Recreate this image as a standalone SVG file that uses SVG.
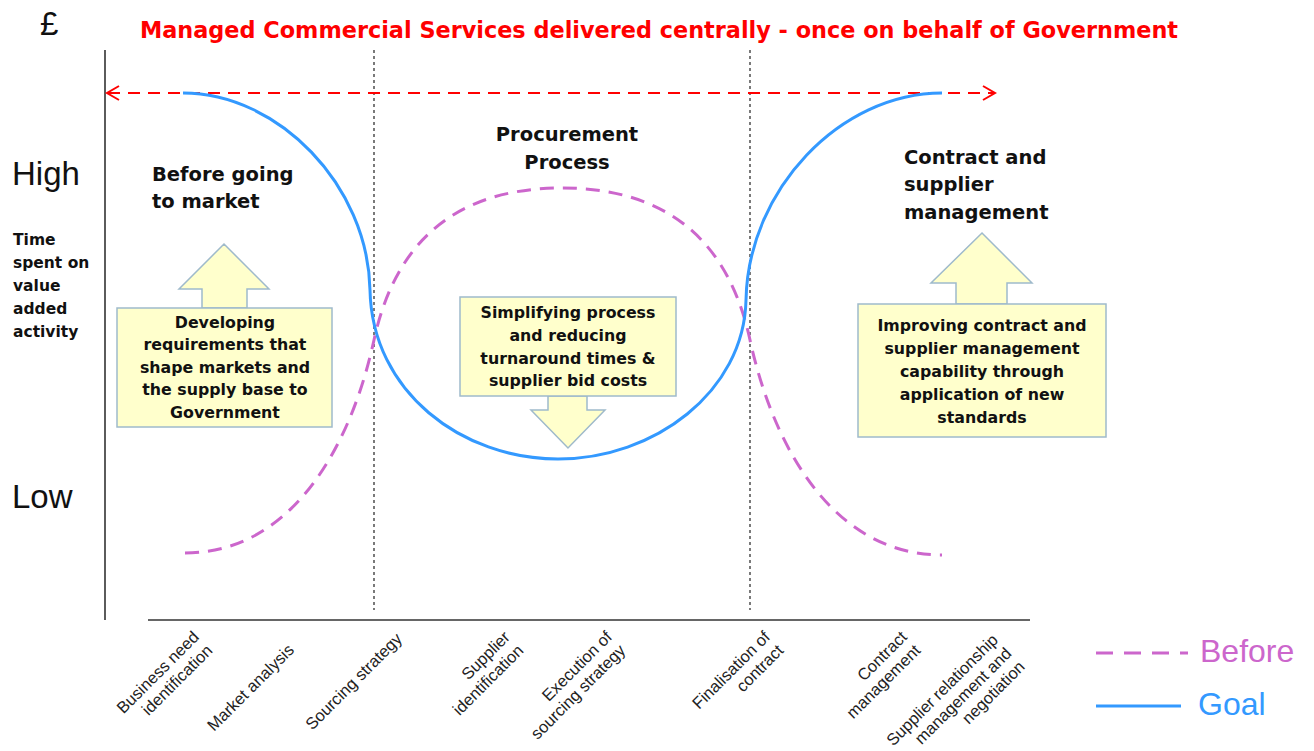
<svg xmlns="http://www.w3.org/2000/svg" width="1314" height="751" viewBox="0 0 1314 751">
<style>
.hd{font-family:"DejaVu Sans","Liberation Sans",sans-serif;font-weight:bold;font-size:19.5px;fill:#111}
.bx{font-family:"DejaVu Sans","Liberation Sans",sans-serif;font-weight:bold;font-size:15.8px;fill:#111;text-anchor:middle}
.ax{font-family:"Liberation Sans",Arial,sans-serif;font-size:16.5px;fill:#222;text-anchor:end}
.big{font-family:"Liberation Sans",Arial,sans-serif;font-size:33px;fill:#111}
.card{fill:#FFFFCC;stroke:#9FBACB;stroke-width:1.5}
.dot{stroke:#222;stroke-width:1.2;stroke-dasharray:3 3;fill:none}
.axis{stroke:#333;stroke-width:1.6;fill:none}
.goal{stroke:#3399FF;stroke-width:3;fill:none}
.before{stroke:#CC66CC;stroke-width:3;fill:none;stroke-dasharray:14 9}
.red{stroke:#FF0000;stroke-width:2;fill:none}
</style>
<rect width="1314" height="751" fill="#FFFFFF"/>

<g id="title">
<text x="140" y="38" textLength="1038" lengthAdjust="spacingAndGlyphs" style="font-family:'DejaVu Sans','Liberation Sans',sans-serif;font-weight:bold;font-size:23px;fill:#FF0000">Managed Commercial Services delivered centrally - once on behalf of Government</text>
</g>

<g id="y-axis-labels">
<text class="big" x="40" y="35">£</text>
<text class="big" x="12" y="185">High</text>
<text class="big" x="12" y="508">Low</text>
<text style="font-family:'DejaVu Sans','Liberation Sans',sans-serif;font-weight:bold;font-size:15.5px;fill:#111">
<tspan x="13" y="245">Time</tspan><tspan x="13" y="268">spent on</tspan><tspan x="13" y="291">value</tspan><tspan x="13" y="314">added</tspan><tspan x="13" y="337">activity</tspan>
</text>
</g>

<g id="axes">
<line class="axis" x1="105" y1="50" x2="105" y2="620"/>
<line class="axis" x1="148" y1="620" x2="1030" y2="620"/>
<line class="dot" x1="374" y1="50" x2="374" y2="610"/>
<line class="dot" x1="750" y1="50" x2="750" y2="610"/>
</g>

<g id="connectors">
<line class="red" x1="108" y1="93" x2="994" y2="93" stroke-dasharray="12 8"/>
<polyline class="red" points="119,86 107,93 119,100"/>
<polyline class="red" points="983,86 995,93 983,100"/>
<path class="before" d="M185,553 C290,553 350,450 374,340 C400,220 480,188 562,188 C644,188 724,220 750,340 C774,450 835,555 942,555"/>
<path class="goal" d="M183,93 C278,93 368,185 370,290 C372,392 462,459 558,459 C654,459 744,392 746,300 C748,190 840,93 942,93"/>
</g>

<g id="heading-before-market">
<text class="hd"><tspan x="152" y="181">Before going</tspan><tspan x="152" y="208">to market</tspan></text>
</g>
<g id="heading-procurement">
<text class="hd" text-anchor="middle"><tspan x="567" y="141">Procurement</tspan><tspan x="567" y="169">Process</tspan></text>
</g>
<g id="heading-contract">
<text class="hd"><tspan x="904" y="164">Contract and</tspan><tspan x="904" y="191">supplier</tspan><tspan x="904" y="219">management</tspan></text>
</g>

<g id="box-requirements">
<polygon class="card" points="202,308 202,289 179,289 224,244 269,289 247,289 247,308"/>
<rect class="card" x="117" y="308" width="215" height="119"/>
<text class="bx"><tspan x="225" y="328">Developing</tspan><tspan x="225" y="350">requirements that</tspan><tspan x="225" y="373">shape markets and</tspan><tspan x="225" y="395">the supply base to</tspan><tspan x="225" y="418">Government</tspan></text>
</g>

<g id="box-simplifying">
<polygon class="card" points="548,396 548,410 531,410 568,448 605,410 587,410 587,396"/>
<rect class="card" x="460" y="297" width="216" height="99"/>
<text class="bx"><tspan x="568" y="318">Simplifying process</tspan><tspan x="568" y="341">and reducing</tspan><tspan x="568" y="364">turnaround times &amp;</tspan><tspan x="568" y="386">supplier bid costs</tspan></text>
</g>

<g id="box-improving">
<polygon class="card" points="956,304 956,283 931,283 982,233 1032,283 1007,283 1007,304"/>
<rect class="card" x="858" y="304" width="248" height="133"/>
<text class="bx"><tspan x="982" y="331">Improving contract and</tspan><tspan x="982" y="354">supplier management</tspan><tspan x="982" y="377">capability through</tspan><tspan x="982" y="400">application of new</tspan><tspan x="982" y="423">standards</tspan></text>
</g>

<g id="x-axis-labels">
<text class="ax" transform="translate(200,638) rotate(-45)"><tspan x="0" y="0">Business need</tspan><tspan x="0" y="19">identification</tspan></text>
<text class="ax" transform="translate(295,651) rotate(-45)"><tspan x="0" y="0">Market analysis</tspan></text>
<text class="ax" transform="translate(403,640) rotate(-45)"><tspan x="0" y="0">Sourcing strategy</tspan></text>
<text class="ax" transform="translate(511,638) rotate(-45)"><tspan x="0" y="0">Supplier</tspan><tspan x="0" y="19">identification</tspan></text>
<text class="ax" transform="translate(613,638) rotate(-45)"><tspan x="0" y="0">Execution of</tspan><tspan x="0" y="19">sourcing strategy</tspan></text>
<text class="ax" transform="translate(771,638) rotate(-45)"><tspan x="0" y="0">Finalisation of</tspan><tspan x="0" y="19">contract</tspan></text>
<text class="ax" transform="translate(908,638) rotate(-45)"><tspan x="0" y="0">Contract</tspan><tspan x="0" y="19">management</tspan></text>
<text class="ax" transform="translate(999,641) rotate(-45)"><tspan x="0" y="0">Supplier relationship</tspan><tspan x="0" y="19">management and</tspan><tspan x="0" y="38">negotiation</tspan></text>
</g>

<g id="legend">
<line x1="1096" y1="653" x2="1188" y2="653" stroke="#CC66CC" stroke-width="3" stroke-dasharray="17 11"/>
<text x="1200" y="662" style="font-family:'Liberation Sans',Arial,sans-serif;font-size:32px;fill:#CC66CC">Before</text>
<line x1="1096" y1="706" x2="1181" y2="706" stroke="#3399FF" stroke-width="3"/>
<text x="1198" y="715" style="font-family:'Liberation Sans',Arial,sans-serif;font-size:32px;fill:#3399FF">Goal</text>
</g>
</svg>
